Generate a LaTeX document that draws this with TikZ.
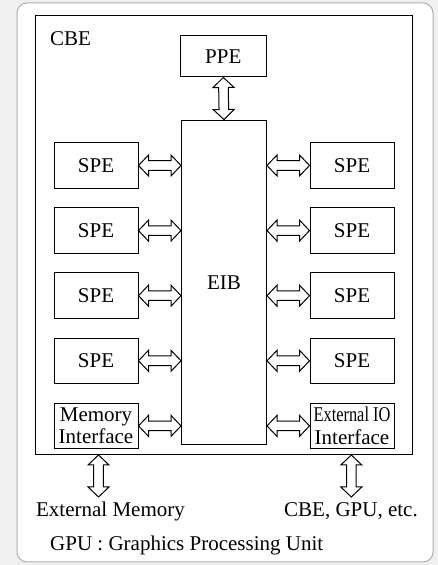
\documentclass[tikz,border=0pt]{standalone}
\usepackage{fontspec}
\setmainfont{Liberation Serif}
\usepackage{tikz}
\usetikzlibrary{positioning, calc}

\definecolor{pagegray}{RGB}{240,240,240}
\definecolor{framegray}{RGB}{175,175,175}

% Block arrow sizes
\def\headlen{10pt}
\def\headwid{10.5pt}
\def\shaftwid{4.8pt}

\begin{document}
\begin{tikzpicture}[
    x=1pt, y=1pt,
    font=\fontsize{21}{22.5}\selectfont,
    node distance=18.6pt,
    unit/.style={rectangle, draw, line width=1pt, minimum width=84pt, minimum height=45.5pt, inner sep=1pt, align=center},
    busbox/.style={rectangle, draw, line width=1pt, minimum width=85pt, minimum height=324.5pt},
    label/.style={inner sep=0pt},
    biarrow/.style={
        draw, line width=1pt, fill=white, line join=miter,
        to path={
            -- ($(\tikztostart)!\headlen!(\tikztotarget)!\headwid!90:(\tikztotarget)$)
            -- ($(\tikztostart)!\headlen!(\tikztotarget)!\shaftwid!90:(\tikztotarget)$)
            -- ($(\tikztotarget)!\headlen!(\tikztostart)!\shaftwid!270:(\tikztostart)$)
            -- ($(\tikztotarget)!\headlen!(\tikztostart)!\headwid!270:(\tikztostart)$)
            -- (\tikztotarget)
            -- ($(\tikztotarget)!\headlen!(\tikztostart)!\headwid!90:(\tikztostart)$)
            -- ($(\tikztotarget)!\headlen!(\tikztostart)!\shaftwid!90:(\tikztostart)$)
            -- ($(\tikztostart)!\headlen!(\tikztotarget)!\shaftwid!270:(\tikztotarget)$)
            -- ($(\tikztostart)!\headlen!(\tikztotarget)!\headwid!270:(\tikztotarget)$)
            -- cycle}
    }
]

% Page and panel
\fill[pagegray] (0,0) rectangle (438,565);
\draw[framegray, fill=white, line width=1pt, rounded corners=10pt] (17,3) rectangle (433,562);

% CBE chip
\node[rectangle, draw, line width=1pt, minimum width=377pt, minimum height=439pt, inner sep=0pt] (cbe) at (223.5,329.5) {};
\node[label, anchor=base west] (cbename) at (50,519.3) {CBE};

% PPE and bus
\node[unit, minimum width=86.5pt, minimum height=41pt] (ppe) at (223.3,508.5) {PPE};
\node[busbox] (eib) at (224,282.7) {EIB};

% Left column
\node[unit] (spe1) at (96,399.5) {SPE};
\node[unit, below=of spe1] (spe2) {SPE};
\node[unit, below=of spe2] (spe3) {SPE};
\node[unit, below=of spe3] (spe4) {SPE};
\node[unit, below=of spe4] (mif) {Memory\\Interface};

% Right column
\node[unit] (spe5) at (352,399.5) {SPE};
\node[unit, below=of spe5] (spe6) {SPE};
\node[unit, below=of spe6] (spe7) {SPE};
\node[unit, below=of spe7] (spe8) {SPE};
\node[unit, below=of spe8] (eio) {\scalebox{0.78}[1]{External IO}\\Interface};

% Links to the bus
\draw[biarrow] (ppe.south) to (eib.north);
\draw[biarrow] (spe1.east) to (spe1.east -| eib.west);
\draw[biarrow] (spe2.east) to (spe2.east -| eib.west);
\draw[biarrow] (spe3.east) to (spe3.east -| eib.west);
\draw[biarrow] (spe4.east) to (spe4.east -| eib.west);
\draw[biarrow] (mif.east) to (mif.east -| eib.west);
\draw[biarrow] (eib.east |- spe5.west) to (spe5.west);
\draw[biarrow] (eib.east |- spe6.west) to (spe6.west);
\draw[biarrow] (eib.east |- spe7.west) to (spe7.west);
\draw[biarrow] (eib.east |- spe8.west) to (spe8.west);
\draw[biarrow] (eib.east |- eio.west) to (eio.west);

% Outside the chip
\node[label, anchor=base] (extmem) at (110.5,48.3) {External Memory};
\node[label, anchor=base] (extio) at (351,48.3) {CBE, GPU, etc.};
\coordinate (memport) at (98.5,110);
\coordinate (memtip) at (98.5,68);
\coordinate (ioport) at (351.3,110);
\coordinate (iotip) at (351.3,68);
\draw[biarrow] (memport) to (memtip);
\draw[biarrow] (ioport) to (iotip);

% Note
\node[label, anchor=base west] (note) at (50,14.3) {GPU : Graphics Processing Unit};

\end{tikzpicture}
\end{document}
